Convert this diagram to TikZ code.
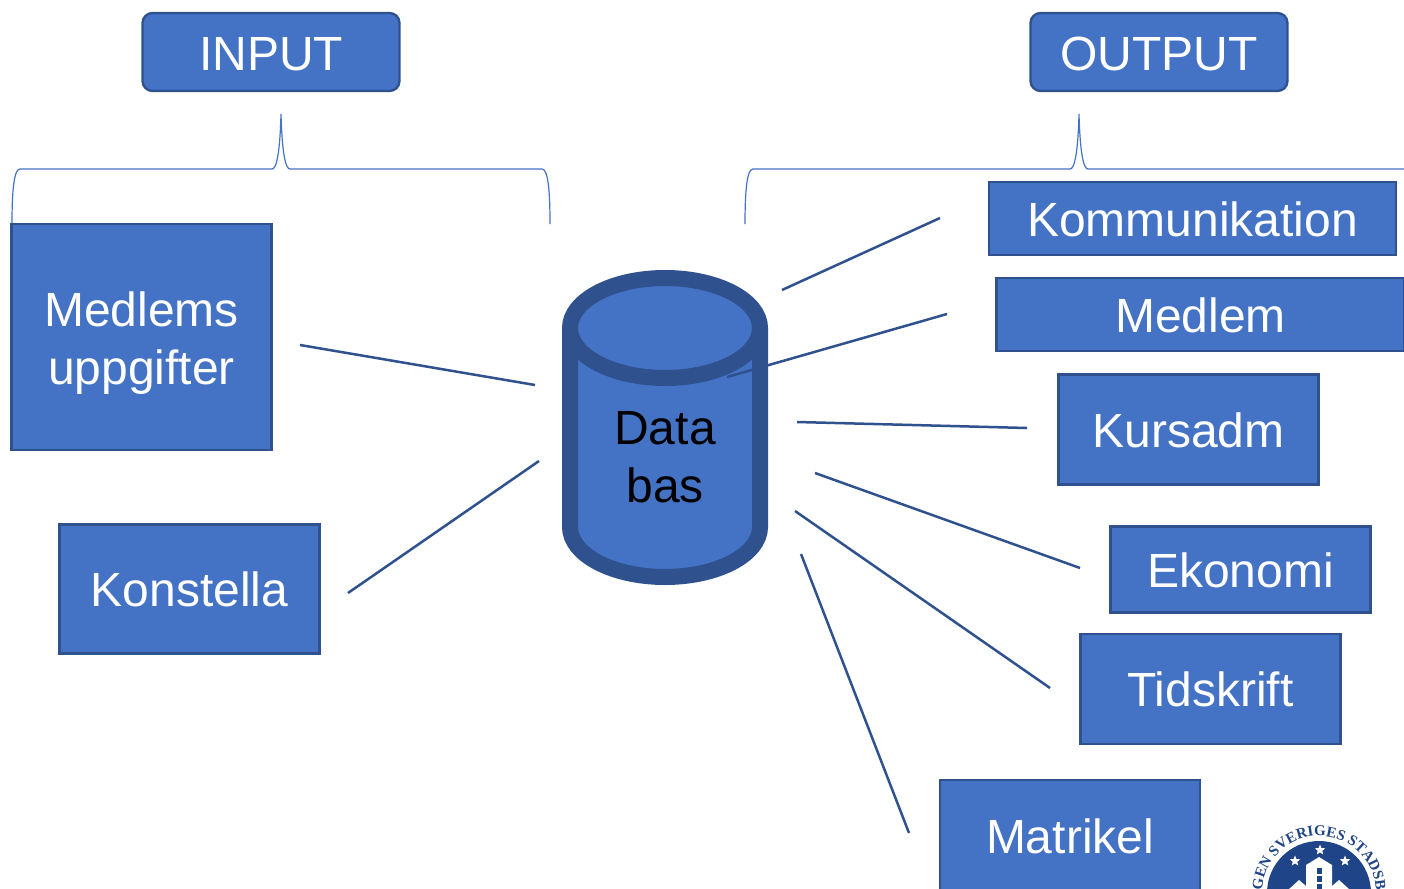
\documentclass[tikz,border=0pt]{standalone}
\usepackage{fontspec}
\setmainfont{Liberation Sans}
\newfontfamily\logofont{Liberation Serif}
\usetikzlibrary{shapes.geometric,decorations.text}
\definecolor{boxfill}{HTML}{4472C4}
\definecolor{boxline}{HTML}{2F528F}
\definecolor{logoblue}{HTML}{1F4487}
\tikzset{
  lab/.style={font=\fontsize{48}{58}\selectfont,text=white,align=center,inner sep=0pt},
  bluebox/.style={lab,draw=boxline,line width=2.3pt,fill=boxfill},
  roundbox/.style={bluebox,rounded corners=10pt},
  low/.style={text height=37pt},
  link/.style={draw=boxline,line width=2.5pt},
  brace/.style={draw=boxfill,line width=1.2pt},
  logostar/.style={star,star points=5,star point ratio=2.3,fill=white,inner sep=0pt,minimum size=11pt}
}
\begin{document}
\begin{tikzpicture}[x=1pt,y=-1pt]
\clip (0,0) rectangle (1404,888);
\fill[white] (0,0) rectangle (1404,888);

\node[roundbox,low,minimum width=257pt,minimum height=78pt] (input) at (271,52) {INPUT};
\node[roundbox,low,minimum width=257pt,minimum height=78pt] (output) at (1159,52) {OUTPUT};

% braces
\draw[brace] (12,224) .. controls (12,190) and (14,169) .. (20,169) -- (272,169)
  .. controls (277,169) and (280,150) .. (281,114)
  .. controls (282,150) and (285,169) .. (290,169) -- (542,169)
  .. controls (548,169) and (550,190) .. (550,224);
\draw[brace] (745,224) .. controls (745,190) and (747,169) .. (753,169) -- (1070,169)
  .. controls (1075,169) and (1078,150) .. (1079,114)
  .. controls (1080,150) and (1083,169) .. (1088,169) -- (1410,169);

% input side
\node[bluebox,minimum width=260pt,minimum height=226pt] (medlems) at (141.5,337) {\rule{0pt}{47pt}Medlems\\uppgifter};
\node[bluebox,minimum width=260pt,minimum height=129pt] (konstella) at (189.5,589) {Konstella};

% output side
\node[bluebox,low,minimum width=407pt,minimum height=73pt] (kommunikation) at (1192.5,218.5) {Kommunikation};
\node[bluebox,low,minimum width=408pt,minimum height=73pt] (medlem) at (1200.5,314.5) {Medlem};
\node[bluebox,low,minimum width=260pt,minimum height=110pt] (kursadm) at (1188.5,429.5) {Kursadm};
\node[bluebox,low,minimum width=260pt,minimum height=86pt] (ekonomi) at (1240.5,569.5) {Ekonomi};
\node[bluebox,minimum width=260pt,minimum height=110pt] (tidskrift) at (1210.5,689) {Tidskrift};
\node[bluebox,minimum width=260pt,minimum height=112pt] (matrikel) at (1070,836) {Matrikel};

% database
\draw[fill=boxfill,draw=boxline,line width=16pt] (570,328) -- (570,527)
  arc[start angle=180,end angle=360,x radius=95,y radius=-50] -- (760,328);
\draw[fill=boxfill,draw=boxline,line width=16pt] (665,328) ellipse[x radius=95,y radius=50];
\node[lab,text=black] (dbase) at (665,457) {Data\\bas};

% free ends of the links
\coordinate (medlemsA) at (300,345);
\coordinate (medlemsB) at (535,385);
\coordinate (konstellaA) at (348,593);
\coordinate (konstellaB) at (539,461);
\coordinate (kommA) at (940,218);
\coordinate (kommB) at (782,290);
\coordinate (medlemA) at (947,314);
\coordinate (medlemB) at (727,377);
\coordinate (kursA) at (1027,428);
\coordinate (kursB) at (797,422);
\coordinate (ekoA) at (1080,568);
\coordinate (ekoB) at (815,473);
\coordinate (tidA) at (1050,688);
\coordinate (tidB) at (795,511);
\coordinate (matA) at (909,833);
\coordinate (matB) at (801,554);

\draw[link] (medlemsA) -- (medlemsB);
\draw[link] (konstellaA) -- (konstellaB);
\draw[link] (kommA) -- (kommB);
\draw[link] (medlemA) -- (medlemB);
\draw[link] (kursA) -- (kursB);
\draw[link] (ekoA) -- (ekoB);
\draw[link] (tidA) -- (tidB);
\draw[link] (matA) -- (matB);

% logo
\fill[logoblue] (1319,893) circle[radius=52];
\node[logostar] (starA) at (1320,850) {};
\node[logostar] (starB) at (1295,861) {};
\node[logostar] (starC) at (1345,861) {};
\fill[white] (1319,857) -- (1332,865) -- (1332,895) -- (1306,895) -- (1306,865) -- cycle;
\fill[white] (1288,890) -- (1299,880) -- (1306,886) -- (1306,890) -- cycle;
\fill[white] (1350,890) -- (1339,880) -- (1332,886) -- (1332,890) -- cycle;
\fill[logoblue] (1317,868) rectangle (1322,874);
\fill[logoblue] (1317,876) rectangle (1322,882);
\fill[logoblue] (1317,884) rectangle (1322,890);
\path[decorate,decoration={text along path,text align=center,
    text={|\logofont\bfseries\fontsize{15}{15}\selectfont\color{logoblue}|GEN SVERIGES STADSB}}]
  (1262,893) arc[start angle=180,end angle=360,x radius=57,y radius=57];
\end{tikzpicture}
\end{document}
